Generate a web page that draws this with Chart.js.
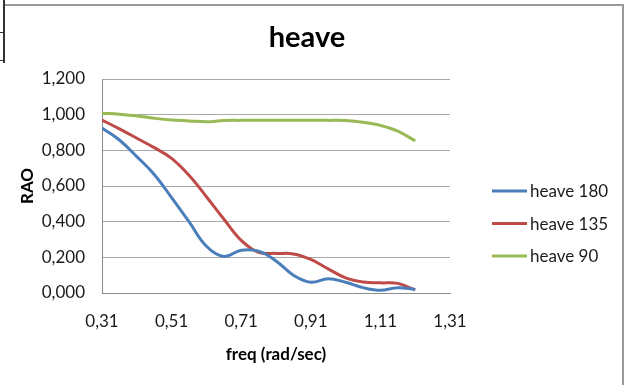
<!DOCTYPE html>
<html>
<head>
    <title>heave</title>
    <script src="https://cdn.jsdelivr.net/npm/chart.js"></script>
    <style>
        body {
            margin: 0;
            background: #ffffff;
            overflow: hidden;
        }
        .wrap {
            position: relative;
            width: 626px;
            height: 385px;
        }
        /* sheet frame around the chart object */
        .frame {
            position: absolute;
            left: 4px;
            top: 4px;
            width: 618px;
            height: 400px;
            border-top: 2px solid #9a9a9a;
            border-right: 2px solid #9a9a9a;
        }
        .cell {
            position: absolute;
            left: 3px;
            top: 0;
            width: 2px;
            height: 63px;
            background: #333;
        }
        .tick {
            position: absolute;
            left: 0;
            width: 4px;
            height: 1px;
            background: #333;
        }
        canvas {
            position: absolute;
            left: 0;
            top: 0;
        }
    </style>
</head>
<body>
    <div class="wrap">
        <div class="frame"></div>
        <div class="cell"></div>
        <div class="tick" style="top:32px"></div>
        <div class="tick" style="top:60px"></div>
        <canvas id="chart" width="626" height="385"></canvas>
    </div>

    <script>
        // frequencies (rad/sec)
        const freq = [0.31, 0.36, 0.41, 0.46, 0.51, 0.56, 0.61, 0.66, 0.71, 0.76,
                      0.81, 0.86, 0.91, 0.96, 1.01, 1.06, 1.11, 1.16, 1.21];

        const heave180 = [0.925, 0.858, 0.765, 0.665, 0.535, 0.400, 0.262, 0.205, 0.240, 0.235,
                          0.180, 0.100, 0.060, 0.080, 0.060, 0.030, 0.015, 0.030, 0.020];
        const heave135 = [0.970, 0.920, 0.868, 0.815, 0.755, 0.660, 0.540, 0.415, 0.295, 0.228,
                          0.222, 0.219, 0.188, 0.135, 0.085, 0.062, 0.057, 0.054, 0.017];
        const heave90  = [1.008, 1.003, 0.993, 0.980, 0.970, 0.965, 0.960, 0.967, 0.968, 0.968,
                          0.968, 0.968, 0.968, 0.968, 0.967, 0.958, 0.940, 0.908, 0.853];

        const xTicks = [0.31, 0.51, 0.71, 0.91, 1.11, 1.31];
        const yTicks = [0, 0.2, 0.4, 0.6, 0.8, 1.0, 1.2];

        const FONT = 'Lato, "Liberation Sans", sans-serif';
        const toPoints = ys => ys.map((y, i) => ({x: freq[i], y: y}));

        function series(label, ys, color) {
            return {
                label: label,
                data: toPoints(ys),
                borderColor: color,
                backgroundColor: color,
                borderWidth: 3,
                pointRadius: 0,
                tension: 0.4,
                fill: false
            };
        }

        // legend on the right, drawn from the datasets
        const sideLegend = {
            id: 'sideLegend',
            afterDraw(chart) {
                const ctx = chart.ctx;
                const x0 = chart.chartArea.right + 42;
                let y = 191;
                ctx.save();
                ctx.font = '17px ' + FONT;
                ctx.textBaseline = 'middle';
                chart.data.datasets.forEach(ds => {
                    ctx.strokeStyle = ds.borderColor;
                    ctx.lineWidth = 3;
                    ctx.beginPath();
                    ctx.moveTo(x0, y);
                    ctx.lineTo(x0 + 35, y);
                    ctx.stroke();
                    ctx.fillStyle = '#1a1a1a';
                    ctx.fillText(ds.label, x0 + 38, y + 1);
                    y += 32.5;
                });
                ctx.restore();
            }
        };

        new Chart(document.getElementById('chart'), {
            type: 'line',
            data: {
                datasets: [
                    series('heave 180', heave180, '#4a7ebb'),
                    series('heave 135', heave135, '#be4b48'),
                    series('heave 90', heave90, '#98b954')
                ]
            },
            plugins: [sideLegend],
            options: {
                responsive: false,
                animation: false,
                layout: {padding: {left: 0, right: 12, top: 10, bottom: 0}},
                plugins: {
                    legend: {display: false},
                    tooltip: {enabled: false},
                    title: {
                        display: true,
                        text: 'heave',
                        color: '#000',
                        font: {family: FONT, size: 29, weight: 'bold'},
                        padding: {top: 10.6, bottom: 23.6}
                    }
                },
                scales: {
                    x: {
                        type: 'linear',
                        min: 0.31,
                        max: 1.31,
                        afterBuildTicks: s => { s.ticks = xTicks.map(v => ({value: v})); },
                        afterFit: s => { s.height = 92; },
                        grid: {display: false, drawTicks: false},
                        border: {display: true, color: '#8c8c8c'},
                        ticks: {
                            padding: 18.8,
                            color: '#1a1a1a',
                            font: {family: FONT, size: 17},
                            maxRotation: 0,
                            callback: v => v.toFixed(2).replace('.', ',')
                        },
                        title: {
                            display: true,
                            text: 'freq (rad/sec)',
                            color: '#000',
                            font: {family: FONT, size: 17, weight: 'bold'},
                            padding: {top: 0, bottom: 19.8}
                        }
                    },
                    y: {
                        min: 0,
                        max: 1.2,
                        afterBuildTicks: s => { s.ticks = yTicks.map(v => ({value: v})); },
                        afterFit: s => { s.width = 102; },
                        grid: {color: '#a8a8a8', lineWidth: 1, drawTicks: false},
                        border: {display: true, color: '#8c8c8c'},
                        ticks: {
                            padding: 17,
                            color: '#1a1a1a',
                            font: {family: FONT, size: 17},
                            callback: v => v.toFixed(3).replace('.', ',')
                        },
                        title: {
                            display: true,
                            text: 'RAO',
                            color: '#000',
                            font: {family: FONT, size: 17, weight: 'bold'},
                            padding: {top: 17.8, bottom: 0}
                        }
                    },
                    // empty strip on the right that holds the legend
                    side: {
                        type: 'linear',
                        position: 'right',
                        display: true,
                        afterFit: s => { s.width = 164; },
                        grid: {display: false, drawTicks: false},
                        border: {display: false},
                        ticks: {display: false}
                    }
                }
            }
        });
    </script>
</body>
</html>
